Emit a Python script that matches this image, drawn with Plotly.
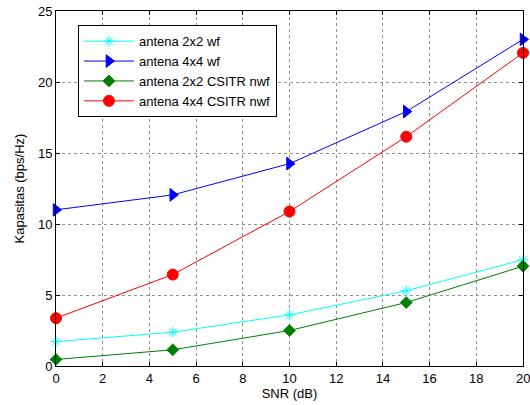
import plotly.graph_objects as go

snr = [0, 5, 10, 15, 20]
wf_2x2 = [1.72, 2.38, 3.6, 5.3, 7.48]
wf_4x4 = [11.0, 12.05, 14.25, 17.92, 23.0]
nwf_2x2 = [0.46, 1.14, 2.5, 4.47, 7.03]
nwf_4x4 = [3.37, 6.44, 10.88, 16.15, 22.05]

x_ticks = list(range(0, 21, 2))
x_tick_labels = [str(v) for v in x_ticks]
y_ticks = list(range(0, 26, 5))

series = [
    ("antena 2x2 wf", wf_2x2, "#00FFFF", "asterisk-open", 9),
    ("antena 4x4 wf", wf_4x4, "#0000FF", "triangle-right", 11),
    ("antena 2x2 CSITR nwf", nwf_2x2, "#008000", "diamond", 9),
    ("antena 4x4 CSITR nwf", nwf_4x4, "#FF0000", "circle", 11),
]

fig = go.Figure()
for name, ys, color, sym, size in series:
    fig.add_trace(go.Scatter(
        x=snr, y=ys, name=name, mode="lines+markers",
        line=dict(color=color, width=1),
        marker=dict(symbol=sym, size=size, color=color,
                    line=dict(color=color, width=1)),
        cliponaxis=False,
    ))

axis_common = dict(
    showline=True, linecolor="black", linewidth=1, mirror="ticks",
    ticks="inside", ticklen=4, tickcolor="black",
    showgrid=True, gridcolor="#909090", griddash="dot", gridwidth=1,
    zeroline=False, tickfont=dict(size=13, color="black"),
    automargin=False,
)

# last x tick label sits on the right edge (partly cut, as in the reference): draw it as annotation
shown_labels = x_tick_labels[:-1] + [""]
fig.update_xaxes(range=[0, 20], tickvals=x_ticks, ticktext=shown_labels,
                 title=dict(text="SNR (dB)", font=dict(size=13, color="black"), standoff=4),
                 **axis_common)
fig.update_yaxes(range=[0, 25], tickvals=y_ticks,
                 title=dict(text="Kapasitas (bps/Hz)", font=dict(size=13, color="black"), standoff=10),
                 **axis_common)
fig.add_annotation(x=x_ticks[-1], xref="x", y=0, yref="paper", yshift=-3,
                   text=x_tick_labels[-1], showarrow=False, yanchor="top",
                   xanchor="center", font=dict(size=13, color="black"))

fig.update_layout(
    width=530, height=405,
    margin=dict(l=56, r=7, t=11, b=39),
    paper_bgcolor="white", plot_bgcolor="white",
    font=dict(family="Liberation Sans, Arial, sans-serif", size=13, color="black"),
    legend=dict(x=0.047, y=0.96, xanchor="left", yanchor="top",
                bgcolor="white", bordercolor="black", borderwidth=1,
                font=dict(size=13), tracegroupgap=0, itemwidth=50),
    showlegend=True,
)

fig.write_html("out.html", config={"displayModeBar": False},
               post_script="document.body.style.margin='0';document.body.style.padding='0';")
